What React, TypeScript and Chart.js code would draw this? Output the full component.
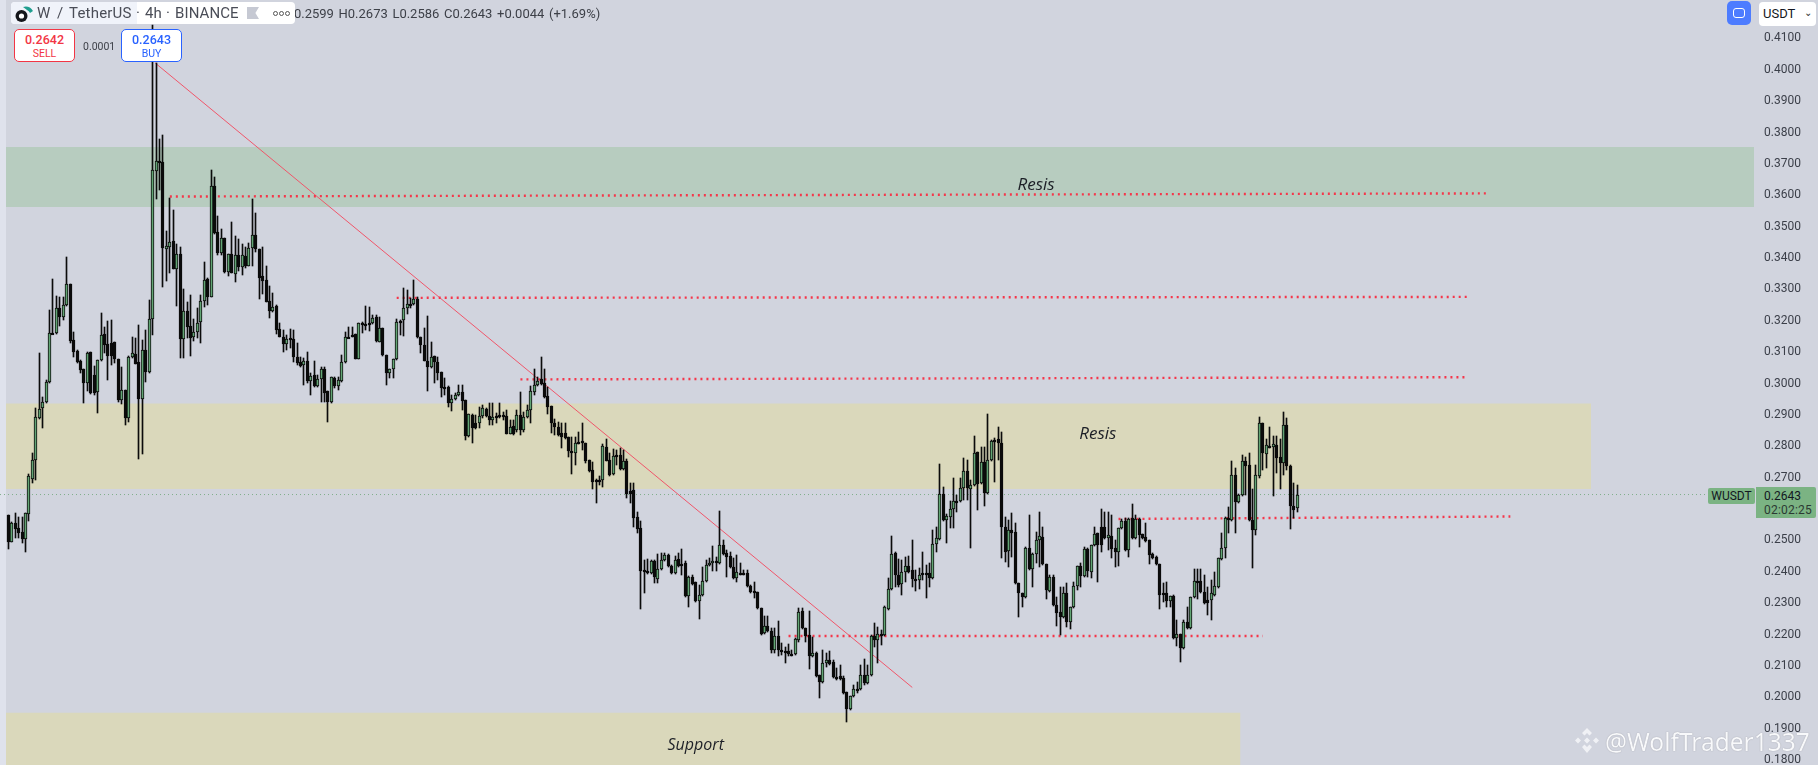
import React, { useEffect, useRef } from "react";
import { Chart, registerables } from "chart.js";

Chart.register(...registerables);

const opens = [
.2578,.2492,.2552,.2536,.2524,.2501,.2581,.2693,.2753,.2887,
.2919,.2938,.3002,.3158,.3158,.3238,.3209,.3247,.3314,.3136,
.3101,.3069,.3043,.2998,.3097,.3024,.2970,.3072,.3155,.3123,
.3126,.3129,.3075,.2944,.2976,.2887,.3081,.3091,.3065,.2947,
.3104,.3034,.3203,.3674,.3706,.3703,.3426,.3432,.3451,.3362,
.3410,.3139,.3228,.3180,.3145,.3161,.3193,.3260,.3330,.3273,
.3627,.3480,.3413,.3461,.3352,.3410,.3346,.3407,.3368,.3404,
.3372,.3429,.3470,.3426,.3340,.3327,.3260,.3228,.3244,.3171,
.3145,.3123,.3142,.3139,.3081,.3065,.3056,.3069,.3005,.3024,
.2989,.3011,.3043,.2973,.2938,.3015,.2989,.3005,.3065,.3145,
.3152,.3155,.3075,.3190,.3187,.3190,.3190,.3209,.3129,.3174,
.3088,.3030,.3043,.3075,.3196,.3199,.3238,.3250,.3250,.3266,
.3145,.3120,.3069,.3049,.3085,.3065,.3034,.2986,.2986,.2935,
.2947,.2960,.2970,.2944,.2830,.2897,.2871,.2871,.2893,.2916,
.2893,.2881,.2893,.2897,.2897,.2893,.2836,.2862,.2849,.2897,
.2849,.2890,.2913,.2970,.2992,.3011,.2998,.2957,.2925,.2871,
.2858,.2839,.2839,.2826,.2782,.2775,.2810,.2813,.2807,.2753,
.2721,.2689,.2689,.2689,.2795,.2753,.2709,.2769,.2769,.2724,
.2750,.2654,.2658,.2571,.2536,.2402,.2399,.2393,.2431,.2374,
.2405,.2434,.2450,.2415,.2393,.2438,.2421,.2425,.2319,.2380,
.2364,.2304,.2323,.2367,.2418,.2425,.2431,.2425,.2482,.2456,
.2447,.2412,.2377,.2393,.2393,.2393,.2351,.2336,.2332,.2281,
.2201,.2224,.2208,.2147,.2192,.2147,.2144,.2144,.2135,.2135,
.2179,.2272,.2217,.2195,.2128,.2138,.2068,.2045,.2106,.2115,
.2109,.2061,.2065,.2058,.2014,.1959,.2001,.2023,.2023,.2068,
.2042,.2068,.2192,.2179,.2198,.2195,.2278,.2342,.2456,.2386,
.2358,.2396,.2415,.2402,.2374,.2371,.2393,.2393,.2393,.2377,
.2485,.2501,.2645,.2562,.2572,.2597,.2623,.2623,.2664,.2718,
.2661,.2674,.2779,.2680,.2747,.2648,.2753,.2817,.2820,.2807,
.2539,.2463,.2530,.2524,.2361,.2329,.2316,.2473,.2405,.2453,
.2498,.2508,.2421,.2336,.2380,.2291,.2269,.2253,.2329,.2237,
.2285,.2351,.2415,.2383,.2469,.2396,.2482,.2520,.2539,.2539,
.2504,.2511,.2473,.2460,.2536,.2559,.2466,.2568,.2504,.2565,
.2517,.2508,.2498,.2453,.2444,.2421,.2329,.2329,.2304,.2319,
.2186,.2198,.2154,.2237,.2217,.2316,.2367,.2367,.2332,.2307,
.2307,.2323,.2348,.2437,.2473,.2568,.2562,.2705,.2619,.2642,
.2750,.2737,.2562,.2530,.2702,.2871,.2772,.2798,.2795,.2801,
.2763,.2744,.2865,.2734,.2607,.2599,
];
const highs = [
.2578,.2556,.2584,.2572,.2572,.2584,.2709,.2776,.2919,.3094,
.2954,.3008,.3231,.3330,.3276,.3273,.3273,.3400,.3314,.3161,
.3104,.3072,.3043,.3097,.3097,.3053,.3072,.3222,.3177,.3196,
.3199,.3129,.3075,.3049,.2976,.3085,.3145,.3142,.3183,.3136,
.3168,.3263,.4140,.4019,.3776,.3789,.3483,.3588,.3550,.3442,
.3432,.3298,.3257,.3279,.3203,.3238,.3279,.3384,.3333,.3678,
.3655,.3531,.3490,.3461,.3410,.3512,.3467,.3458,.3442,.3432,
.3445,.3585,.3541,.3426,.3432,.3372,.3308,.3285,.3247,.3190,
.3168,.3152,.3171,.3168,.3126,.3081,.3078,.3097,.3030,.3069,
.3024,.3049,.3049,.2973,.3018,.3018,.3018,.3088,.3161,.3177,
.3177,.3155,.3190,.3193,.3244,.3241,.3215,.3215,.3209,.3174,
.3088,.3043,.3075,.3203,.3199,.3301,.3295,.3270,.3327,.3273,
.3145,.3174,.3212,.3129,.3085,.3081,.3034,.3015,.2989,.2960,
.2967,.2992,.2992,.2944,.2900,.2900,.2897,.2922,.2928,.2919,
.2935,.2935,.2903,.2935,.2906,.2913,.2881,.2881,.2913,.2970,
.2906,.2928,.2989,.3043,.3018,.3081,.3043,.2986,.2925,.2884,
.2874,.2871,.2871,.2826,.2826,.2826,.2842,.2871,.2807,.2753,
.2747,.2693,.2702,.2804,.2820,.2775,.2788,.2785,.2791,.2785,
.2756,.2680,.2680,.2587,.2559,.2434,.2438,.2434,.2434,.2453,
.2456,.2456,.2453,.2418,.2447,.2456,.2469,.2431,.2383,.2386,
.2364,.2355,.2412,.2434,.2441,.2479,.2444,.2591,.2498,.2466,
.2460,.2441,.2450,.2425,.2402,.2402,.2355,.2364,.2332,.2281,
.2256,.2256,.2217,.2217,.2240,.2170,.2157,.2167,.2147,.2186,
.2281,.2281,.2217,.2272,.2189,.2141,.2068,.2147,.2138,.2144,
.2115,.2090,.2100,.2065,.2014,.2001,.2036,.2046,.2100,.2119,
.2100,.2195,.2233,.2221,.2211,.2288,.2377,.2511,.2460,.2438,
.2434,.2444,.2447,.2498,.2402,.2409,.2460,.2418,.2425,.2530,
.2540,.2740,.2667,.2581,.2623,.2696,.2642,.2696,.2760,.2753,
.2689,.2830,.2779,.2795,.2795,.2900,.2817,.2823,.2858,.2842,
.2571,.2562,.2584,.2552,.2361,.2329,.2476,.2578,.2456,.2524,
.2587,.2540,.2421,.2386,.2386,.2316,.2348,.2348,.2361,.2285,
.2364,.2415,.2425,.2476,.2473,.2482,.2540,.2520,.2597,.2587,
.2587,.2578,.2498,.2536,.2565,.2568,.2568,.2613,.2578,.2568,
.2517,.2552,.2498,.2456,.2447,.2421,.2361,.2364,.2319,.2323,
.2243,.2198,.2243,.2285,.2316,.2405,.2405,.2405,.2386,.2348,
.2371,.2396,.2441,.2520,.2571,.2603,.2750,.2728,.2645,.2769,
.2763,.2775,.2661,.2737,.2890,.2871,.2820,.2858,.2830,.2830,
.2820,.2906,.2887,.2737,.2680,.2673,
];
const lows = [
.2469,.2492,.2505,.2505,.2488,.2460,.2559,.2680,.2689,.2884,
.2855,.2935,.3000,.3155,.3155,.3180,.3199,.3244,.3126,.3081,
.3062,.3030,.2935,.2973,.2964,.2960,.2903,.3069,.3094,.3008,
.3056,.3062,.2938,.2932,.2865,.2874,.3078,.3059,.2756,.2772,
.3002,.3030,.3152,.3585,.3614,.3305,.3324,.3349,.3362,.3244,
.3078,.3078,.3142,.3085,.3132,.3142,.3126,.3241,.3247,.3273,
.3474,.3407,.3407,.3349,.3340,.3349,.3321,.3356,.3343,.3365,
.3372,.3372,.3416,.3266,.3282,.3257,.3206,.3225,.3155,.3145,
.3097,.3104,.3110,.3065,.3056,.3049,.2992,.2998,.2960,.2986,
.2986,.2938,.2938,.2874,.2935,.2983,.2976,.3002,.3062,.3142,
.3145,.3075,.3075,.3158,.3168,.3164,.3187,.3129,.3129,.3085,
.2992,.3015,.3015,.3072,.3152,.3148,.3218,.3238,.3247,.3142,
.3094,.3069,.2973,.3046,.2998,.3008,.2954,.2960,.2922,.2909,
.2944,.2957,.2913,.2817,.2826,.2807,.2852,.2855,.2887,.2890,
.2865,.2865,.2871,.2887,.2881,.2836,.2836,.2833,.2842,.2833,
.2842,.2887,.2871,.2960,.2989,.2992,.2951,.2900,.2839,.2833,
.2830,.2791,.2820,.2763,.2709,.2737,.2804,.2785,.2744,.2715,
.2661,.2616,.2673,.2667,.2750,.2702,.2705,.2737,.2721,.2721,
.2632,.2616,.2540,.2520,.2278,.2329,.2390,.2390,.2361,.2361,
.2402,.2431,.2412,.2390,.2390,.2412,.2386,.2316,.2285,.2355,
.2300,.2246,.2319,.2364,.2415,.2399,.2399,.2421,.2450,.2380,
.2409,.2374,.2364,.2386,.2386,.2348,.2329,.2313,.2278,.2195,
.2198,.2205,.2138,.2138,.2128,.2131,.2106,.2128,.2128,.2131,
.2173,.2214,.2173,.2087,.2125,.2061,.1994,.2042,.2093,.2100,
.2058,.2052,.2052,.2007,.1918,.1956,.1998,.2010,.2020,.2036,
.2039,.2065,.2157,.2106,.2163,.2192,.2275,.2339,.2348,.2348,
.2323,.2364,.2393,.2348,.2336,.2342,.2371,.2313,.2348,.2374,
.2460,.2498,.2559,.2488,.2536,.2536,.2587,.2619,.2626,.2626,
.2473,.2670,.2594,.2677,.2607,.2645,.2750,.2683,.2753,.2441,
.2428,.2412,.2444,.2358,.2253,.2285,.2313,.2402,.2348,.2425,
.2412,.2418,.2310,.2332,.2288,.2224,.2195,.2250,.2221,.2214,
.2281,.2339,.2348,.2380,.2380,.2377,.2479,.2364,.2460,.2501,
.2466,.2441,.2412,.2415,.2533,.2463,.2444,.2501,.2501,.2476,
.2501,.2492,.2421,.2438,.2418,.2278,.2300,.2285,.2285,.2182,
.2160,.2109,.2150,.2214,.2214,.2313,.2310,.2329,.2294,.2259,
.2243,.2319,.2345,.2434,.2441,.2520,.2559,.2520,.2616,.2638,
.2642,.2559,.2409,.2514,.2696,.2721,.2728,.2791,.2638,.2712,
.2661,.2705,.2721,.2533,.2568,.2586,
];
const closes = [
.2492,.2552,.2533,.2520,.2501,.2584,.2702,.2753,.2890,.2916,
.2938,.3002,.3158,.3155,.3238,.3209,.3247,.3314,.3132,.3097,
.3065,.3040,.2998,.3094,.2967,.2967,.3072,.3152,.3120,.3085,
.3085,.3075,.2944,.2976,.2887,.3081,.3094,.3059,.2947,.3104,
.3034,.3203,.3678,.3706,.3703,.3429,.3435,.3448,.3362,.3410,
.3139,.3228,.3177,.3142,.3161,.3190,.3260,.3327,.3273,.3627,
.3477,.3413,.3461,.3352,.3410,.3349,.3407,.3368,.3407,.3372,
.3429,.3470,.3426,.3333,.3324,.3257,.3228,.3241,.3168,.3145,
.3123,.3139,.3139,.3081,.3062,.3053,.3069,.3005,.3021,.2989,
.3011,.3043,.2967,.2938,.3018,.2989,.3008,.3065,.3145,.3142,
.3148,.3075,.3190,.3187,.3183,.3187,.3206,.3132,.3174,.3088,
.3030,.3043,.3075,.3193,.3193,.3238,.3250,.3247,.3266,.3145,
.3120,.3069,.3049,.3081,.3065,.3030,.2983,.2983,.2935,.2947,
.2960,.2970,.2941,.2830,.2900,.2855,.2855,.2893,.2919,.2893,
.2881,.2890,.2890,.2890,.2890,.2836,.2858,.2836,.2897,.2849,
.2890,.2913,.2973,.2992,.3005,.2995,.2954,.2922,.2871,.2858,
.2833,.2826,.2823,.2782,.2779,.2807,.2807,.2807,.2750,.2718,
.2683,.2686,.2686,.2798,.2750,.2705,.2766,.2766,.2724,.2750,
.2645,.2645,.2568,.2533,.2399,.2399,.2393,.2431,.2380,.2405,
.2434,.2450,.2415,.2393,.2434,.2415,.2418,.2319,.2380,.2358,
.2304,.2323,.2367,.2418,.2425,.2431,.2428,.2482,.2453,.2444,
.2412,.2377,.2396,.2390,.2390,.2351,.2332,.2332,.2281,.2198,
.2224,.2208,.2147,.2192,.2147,.2141,.2141,.2135,.2131,.2182,
.2269,.2217,.2192,.2128,.2138,.2065,.2045,.2106,.2115,.2103,
.2061,.2058,.2055,.2010,.1959,.2001,.2023,.2020,.2068,.2042,
.2068,.2192,.2179,.2198,.2195,.2285,.2342,.2453,.2386,.2355,
.2396,.2415,.2396,.2374,.2371,.2386,.2390,.2390,.2377,.2485,
.2504,.2645,.2562,.2575,.2597,.2623,.2619,.2664,.2718,.2664,
.2674,.2776,.2677,.2747,.2648,.2753,.2814,.2814,.2807,.2539,
.2460,.2530,.2520,.2361,.2329,.2316,.2473,.2405,.2453,.2498,
.2511,.2421,.2339,.2380,.2291,.2265,.2253,.2329,.2237,.2285,
.2351,.2415,.2383,.2469,.2399,.2482,.2517,.2482,.2482,.2504,
.2514,.2469,.2460,.2536,.2559,.2466,.2565,.2504,.2565,.2514,
.2504,.2495,.2450,.2441,.2421,.2323,.2326,.2304,.2319,.2186,
.2198,.2154,.2237,.2217,.2316,.2367,.2364,.2332,.2297,.2297,
.2329,.2351,.2441,.2473,.2568,.2565,.2705,.2619,.2642,.2750,
.2734,.2562,.2530,.2705,.2871,.2776,.2801,.2795,.2804,.2760,
.2744,.2865,.2734,.2607,.2594,.2643,
];

const priceTicks = { step: 0.01, top: 0.41, digits: 4 };
const xRange = [-2.415, 510.8];
const yRange = [0.17808, 0.42195];

const greenZone = { fromX: -0.67, toX: 507.9, top: 0.3751, bottom: 0.356 };
const yellowZone = { fromX: -0.67, toX: 460.5, top: 0.2933, bottom: 0.2661 };
const supportZone = { fromX: -0.67, toX: 358.5, top: 0.1947, bottom: 0.17 };

const trendLine = [{ x: 42.7, y: 0.4019 }, { x: 263, y: 0.2028 }];
const levelA = [{ x: 47, y: 0.3593 }, { x: 430, y: 0.3603 }];
const levelB = [{ x: 113, y: 0.327 }, { x: 424.4, y: 0.3273 }];
const levelC = [{ x: 149, y: 0.301 }, { x: 424.4, y: 0.3017 }];
const levelD = [{ x: 227, y: 0.2192 }, { x: 365, y: 0.2192 }];
const levelE = [{ x: 323, y: 0.2565 }, { x: 437, y: 0.2573 }];
const lastPrice = 0.2643;

const noteLabels = [
  { text: "Resis", x: 299, y: 0.363, size: 17 },
  { text: "Resis", x: 317, y: 0.2835, size: 17 },
  { text: "Support", x: 200, y: 0.1842, size: 16 },
];

const UP = "#62a574";
const DOWN = "#0b0b0b";
const RED = "#f5364a";

function zoneDataset(z: { fromX: number; toX: number; top: number; bottom: number }, color: string) {
  return {
    type: "line" as const,
    data: [{ x: z.fromX, y: z.top }, { x: z.toX, y: z.top }],
    borderWidth: 0,
    pointRadius: 0,
    backgroundColor: color,
    fill: { value: z.bottom },
    order: 8,
  };
}
function levelDataset(data: { x: number; y: number }[]) {
  return {
    type: "line" as const,
    data,
    borderColor: RED,
    borderWidth: 2.4,
    borderDash: [2, 4],
    pointRadius: 0,
    fill: false,
    order: 5,
  };
}

const snapBars = {
  id: "snapBars",
  afterDatasetsUpdate(chart: any) {
    chart.data.datasets.forEach((_: any, i: number) => {
      const meta = chart.getDatasetMeta(i);
      if (meta.type !== "bar") return;
      meta.data.forEach((el: any) => {
        el.x = Math.floor(el.x) + 0.5;
        el.y = Math.round(el.y);
        el.base = Math.round(el.base);
        if (Math.abs(el.base - el.y) < 2) el.base = el.y + 2;
      });
    });
  },
};

const notesPlugin = {
  id: "notes",
  afterDatasetsDraw(chart: any) {
    const { ctx, scales } = chart;
    ctx.save();
    ctx.fillStyle = "#1c1f26";
    ctx.textAlign = "center";
    ctx.textBaseline = "middle";
    noteLabels.forEach((n) => {
      ctx.font = `italic ${n.size}px "Open Sans"`;
      ctx.fillText(n.text, scales.x.getPixelForValue(n.x), scales.y.getPixelForValue(n.y));
    });
    ctx.restore();
  },
};

const abs = (left: number, top: number, extra: React.CSSProperties = {}): React.CSSProperties => ({
  position: "absolute",
  left,
  top,
  whiteSpace: "nowrap",
  ...extra,
});

function TradeBox({ left, color, price, label }: { left: number; color: string; price: string; label: string }) {
  return (
    <div style={abs(left, 29, { width: 59, height: 31, border: `1px solid ${color}`, borderRadius: 5, background: "#fff", color, textAlign: "center" })}>
      <div style={{ fontSize: 12.5, fontWeight: 500, lineHeight: "14px", marginTop: 3 }}>{price}</div>
      <div style={{ fontSize: 10.5, lineHeight: "13px" }}>{label}</div>
    </div>
  );
}

export default function App() {
  const ref = useRef<HTMLCanvasElement | null>(null);
  useEffect(() => {
    if (!ref.current) return;
    const idx = opens.map((_, i) => i);
    const chart = new Chart(ref.current, {
      type: "bar",
      data: {
        datasets: [
          zoneDataset(greenZone, "#b7ccbf"),
          zoneDataset(yellowZone, "#dad8bb"),
          zoneDataset(supportZone, "#dad8bb"),
          {
            type: "line",
            data: [{ x: xRange[0], y: lastPrice }, { x: 497, y: lastPrice }],
            borderColor: "#7fae8a",
            borderWidth: 1,
            borderDash: [1, 3],
            pointRadius: 0,
            fill: false,
            order: 7,
          },
          { type: "line", data: trendLine, borderColor: "#f0566a", borderWidth: 1, pointRadius: 0, fill: false, order: 6 },
          levelDataset(levelA),
          levelDataset(levelB),
          levelDataset(levelC),
          levelDataset(levelD),
          levelDataset(levelE),
          {
            type: "bar",
            data: idx.map((i) => ({ x: i, y: [lows[i], highs[i]] })),
            backgroundColor: DOWN,
            borderWidth: 0,
            grouped: false,
            barThickness: 1,
            maxBarThickness: 1,
            order: 3,
          },
          {
            type: "bar",
            data: idx.map((i) => ({ x: i, y: [opens[i], closes[i]] })),
            backgroundColor: idx.map((i) => (closes[i] >= opens[i] ? UP : DOWN)),
            borderColor: DOWN,
            borderWidth: 1,
            borderSkipped: false,
            grouped: false,
            barThickness: 3,
            maxBarThickness: 3,
            order: 2,
          },
        ] as any,
      },
      options: {
        animation: false,
        responsive: false,
        devicePixelRatio: 1,
        layout: { padding: 0 },
        plugins: { legend: { display: false }, tooltip: { enabled: false }, title: { display: false } },
        scales: {
          x: { type: "linear", min: xRange[0], max: xRange[1], offset: false, display: false },
          y: {
            type: "linear",
            position: "right",
            min: yRange[0],
            max: yRange[1],
            grid: { display: false, drawTicks: false },
            border: { display: false },
            afterFit: (s: any) => {
              s.width = 54;
              s.paddingTop = 0;
              s.paddingBottom = 0;
            },
            ticks: {
              stepSize: priceTicks.step,
              includeBounds: false,
              autoSkip: false,
              padding: 0,
              labelOffset: 1,
              color: "#3b3f49",
              font: { family: "Roboto", size: 12 },
              callback: (v: any) => (Number(v) > priceTicks.top + 0.001 ? "" : Number(v).toFixed(priceTicks.digits)),
            },
          },
        },
      } as any,
      plugins: [snapBars, notesPlugin],
    });
    return () => chart.destroy();
  }, []);

  return (
    <div style={{ position: "fixed", left: 0, top: 0, width: 1818, height: 765, background: "#d1d4de", overflow: "hidden", fontFamily: "Roboto" }}>
      <div style={abs(0, 0, { width: 6, height: 765, background: "#dfe2ec" })} />
      <canvas ref={ref} width={1818} height={765} style={{ position: "absolute", left: 0, top: 0, display: "block" }} />

      <div style={abs(285, 6, { fontSize: 13, lineHeight: "16px", color: "#3d4048", wordSpacing: 1.4 })}>O0.2599 H0.2673 L0.2586 C0.2643 +0.0044 (+1.69%)</div>

      <div style={abs(11, 2, { width: 284, height: 22, background: "#fff", borderRadius: 4 })} />
      <div style={abs(11, 2, { width: 126, height: 22, background: "#f0f3fa", borderRadius: "4px 0 0 4px" })} />
      <svg style={abs(14, 3)} width={21} height={21} viewBox="0 0 21 21">
        <circle cx="7.5" cy="13" r="6" fill="#15171c" />
        <circle cx="7.5" cy="13" r="2.6" fill="#fff" />
        <path d="M9 4 A9 9 0 0 1 19 8 L16 10 A6 6 0 0 0 13 7 Z" fill="#1f9e8f" />
      </svg>
      <div style={abs(37, 5, { fontSize: 15, lineHeight: "17px", color: "#4a4d57", letterSpacing: 0.35 })}>W</div>
      <div style={abs(57, 5, { fontSize: 15, lineHeight: "17px", color: "#4a4d57" })}>/</div>
      <div style={abs(69, 5, { fontSize: 15, lineHeight: "17px", color: "#4a4d57", letterSpacing: 0.2 })}>TetherUS</div>
      <div style={abs(136, 5, { fontSize: 15, lineHeight: "17px", color: "#4a4d57" })}>·</div>
      <div style={abs(145, 5, { fontSize: 15, lineHeight: "17px", color: "#4a4d57" })}>4h</div>
      <div style={abs(166, 5, { fontSize: 15, lineHeight: "17px", color: "#4a4d57" })}>·</div>
      <div style={abs(175, 5, { fontSize: 15, lineHeight: "17px", color: "#4a4d57", letterSpacing: 0.1 })}>BINANCE</div>
      <div style={abs(247, 7, { width: 12, height: 12, background: "#c6c9d3", clipPath: "polygon(0 0,100% 0,70% 50%,100% 100%,0 100%)" })} />
      {[273, 279, 285].map((x) => (
        <div key={x} style={abs(x, 11, { width: 3, height: 3, border: "1px solid #555", borderRadius: "50%" })} />
      ))}

      <TradeBox left={14} color="#f23645" price="0.2642" label="SELL" />
      <div style={abs(83, 40, { fontSize: 10.5, lineHeight: "13px", color: "#3d4048" })}>0.0001</div>
      <TradeBox left={121} color="#2962ff" price="0.2643" label="BUY" />

      <div style={abs(1727, 1, { width: 24, height: 24, background: "#4d7cff", borderRadius: 5 })}>
        <div style={{ position: "absolute", left: 6, top: 7, width: 10, height: 8, border: "1px solid #fff", borderRadius: 3 }} />
      </div>
      <div style={abs(1759, 2, { width: 57, height: 24, background: "#fff", borderRadius: 4, color: "#131722", fontSize: 13, lineHeight: "24px", paddingLeft: 4, boxSizing: "border-box" })}>
        USDT
        <span style={{ position: "absolute", right: 4, top: -1, fontSize: 10, color: "#333" }}>⌄</span>
      </div>

      <div style={abs(1708, 488, { width: 47, height: 16, background: "#7bb383", borderRadius: 2, color: "#131722", fontSize: 12, lineHeight: "16px", textAlign: "center" })}>WUSDT</div>
      <div style={abs(1756, 487, { width: 60, height: 31, background: "#7bb383", borderRadius: "0 2px 2px 0", color: "#131722", fontSize: 12, lineHeight: "14px", paddingLeft: 8, paddingTop: 2, boxSizing: "border-box" })}>
        <div>0.2643</div>
        <div style={{ letterSpacing: 0.2, color: "#2c3a33" }}>02:02:25</div>
      </div>

      <svg style={abs(1573, 727)} width={28} height={28} viewBox="0 0 28 28" fill="#f2f3f6" opacity={0.95}>
        <path d="M14 1 L19 6 L16.5 8.5 L14 6 L11.5 8.5 L9 6 Z" />
        <path d="M5 10.5 L8 13.5 L5 16.5 L2 13.5 Z" />
        <path d="M23 10.5 L26 13.5 L23 16.5 L20 13.5 Z" />
        <path d="M14 10.5 L17 13.5 L14 16.5 L11 13.5 Z" />
        <path d="M9 20 L11.5 17.5 L14 20 L16.5 17.5 L19 20 L14 26 Z" />
      </svg>
      <div style={abs(1605, 727, { fontFamily: "'Noto Sans'", fontSize: 24.5, lineHeight: "30px", color: "#f8f9fb", textShadow: "0 0 1px rgba(110,110,120,0.7)" })}>@WolfTrader1337</div>
    </div>
  );
}
